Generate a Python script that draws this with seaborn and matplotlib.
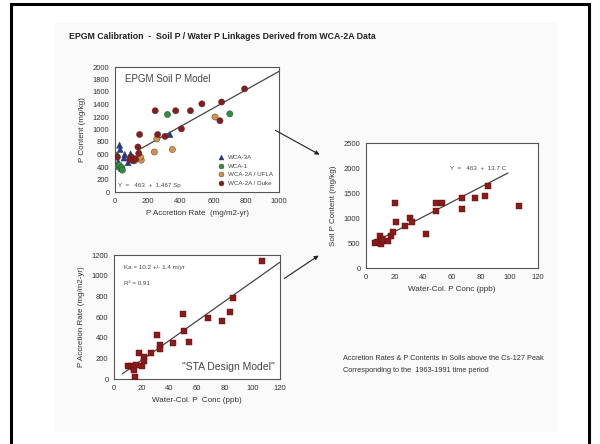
import numpy as np
import pandas as pd
import seaborn as sns
import matplotlib.pyplot as plt
from matplotlib.patches import Rectangle

# --- data ---
# top-left: EPGM soil P model (P accretion rate vs P content)
wca3a_sp = [28, 32, 60, 55, 20, 95, 80, 335]
wca3a_p = [750, 680, 600, 545, 480, 610, 470, 920]
wca1_sp = [5, 15, 25, 35, 42, 45, 320, 700, 10]
wca1_p = [590, 410, 430, 370, 390, 350, 1240, 1250, 560]
ufla_sp = [150, 160, 155, 240, 255, 350, 610, 120]
ufla_p = [540, 510, 560, 640, 850, 680, 1200, 500]
duke_sp = [15, 100, 110, 125, 140, 145, 150, 245, 260, 305, 370, 405, 460, 530, 640, 650, 790, 90]
duke_p = [560, 560, 500, 530, 720, 620, 920, 1300, 920, 890, 1300, 1010, 1300, 1410, 1140, 1440, 1650, 520]
soil_line_x = [140, 1000]
soil_line_y = [668, 1930]

# bottom-left: STA design model (water column P vs accretion)
sta_conc = [10, 12, 13.5, 14.5, 15, 16, 18, 20, 21.5, 22, 27, 31, 33, 33, 43, 50, 50.5, 54, 68, 78, 84, 86, 107]
sta_acc = [130, 125, 115, 85, 20, 135, 250, 125, 210, 170, 250, 430, 325, 290, 350, 630, 460, 355, 590, 565, 650, 780, 1140]
sta_line_x = [6, 121]
sta_line_y = [50, 1140]

# right: soil P content vs water column P
wc_conc = [6, 8, 10, 10.5, 11, 12, 15, 17.5, 19, 20.5, 21, 27, 31, 32, 42, 49, 49, 53, 67, 67, 76, 83, 85, 107]
wc_soil = [500, 520, 640, 480, 590, 540, 540, 640, 720, 1300, 920, 850, 1010, 920, 680, 1300, 1140, 1300, 1400, 1190, 1400, 1440, 1650, 1250]
wc_line_x = [12, 99]
wc_line_y = [610, 1900]

sns.set_style('white')
plt.rcParams['font.family'] = ['Liberation Sans', 'DejaVu Sans']

W, H = 600, 444
fig = plt.figure(figsize=(6, 4.44), dpi=100)

def px_axes(x0, y0, x1, y1):
    # pixel box (top-left origin) -> axes
    return fig.add_axes([x0 / W, 1 - y1 / H, (x1 - x0) / W, (y1 - y0) / H])

# slide frame and faint panel
fig.patches.append(Rectangle((11 / W, -0.05), 578 / W, 1 - 4 / H + 0.05, transform=fig.transFigure,
                             fill=False, edgecolor='black', linewidth=2.2, zorder=0))
fig.patches.append(Rectangle((55 / W, 1 - 432 / H), 502 / W, 410 / H, transform=fig.transFigure,
                             facecolor='#fafafa', edgecolor='none', zorder=-1))

fig.text(69 / W, 1 - 36 / H, 'EPGM Calibration  -  Soil P / Water P Linkages Derived from WCA-2A Data',
         fontsize=6.3, fontweight='bold', color='#222', va='center')

red = '#8b1a1a'

def style_ax(ax):
    ax.set_facecolor('white')
    for s in ax.spines.values():
        s.set_color('#555')
        s.set_linewidth(0.8)
    ax.tick_params(direction='in', length=2.5, width=0.6, colors='#555', labelsize=5.5,
                   labelcolor='#333', pad=4)

# ---- top-left ----
ax1 = px_axes(115, 67, 279, 192)
df1 = pd.concat([
    pd.DataFrame({'x': wca3a_sp, 'y': wca3a_p, 'g': 'WCA-3A'}),
    pd.DataFrame({'x': wca1_sp, 'y': wca1_p, 'g': 'WCA-1'}),
    pd.DataFrame({'x': ufla_sp, 'y': ufla_p, 'g': 'WCA-2A / UFLA'}),
    pd.DataFrame({'x': duke_sp, 'y': duke_p, 'g': 'WCA-2A / Duke'}),
])
pal = {'WCA-3A': '#1f3a9e', 'WCA-1': '#2f8f3f', 'WCA-2A / UFLA': '#d8914a', 'WCA-2A / Duke': red}
marks = {'WCA-3A': '^', 'WCA-1': 'o', 'WCA-2A / UFLA': 'o', 'WCA-2A / Duke': 'o'}
sns.lineplot(x=soil_line_x, y=soil_line_y, color='#444', linewidth=0.9, ax=ax1)
sns.scatterplot(data=df1, x='x', y='y', hue='g', style='g', palette=pal, markers=marks,
                s=20, edgecolor='#333', linewidth=0.3, ax=ax1, zorder=3)
ax1.set_xlim(0, 1000)
ax1.set_ylim(0, 2000)
ax1.set_xticks(range(0, 1001, 200))
ax1.set_yticks(range(0, 2001, 200))
style_ax(ax1)
ax1.set_xlabel('P Accretion Rate  (mg/m2-yr)', fontsize=5.8, color='#333', labelpad=4)
ax1.set_ylabel('P Content (mg/kg)', fontsize=5.8, color='#333', labelpad=5)
ax1.text(0.06, 0.9, 'EPGM Soil P Model', transform=ax1.transAxes, fontsize=7, color='#444', va='center')
ax1.text(0.02, 0.05, 'Y  =   463  +  1.467 Sp', transform=ax1.transAxes, fontsize=4.5, color='#444', va='center')
leg = ax1.legend(loc='lower right', fontsize=4.5, frameon=False, handletextpad=0.1,
                 labelspacing=0.5, borderaxespad=0.6, markerscale=0.8)
for t in leg.get_texts():
    t.set_color('#444')

# ---- bottom-left ----
ax2 = px_axes(114, 255, 280, 379)
sns.lineplot(x=sta_line_x, y=sta_line_y, color='#444', linewidth=0.9, ax=ax2)
sns.scatterplot(x=sta_conc, y=sta_acc, marker='s', color=red, s=22, edgecolor='#5a0f0f',
                linewidth=0.3, ax=ax2, zorder=3)
ax2.set_xlim(0, 120)
ax2.set_ylim(0, 1200)
ax2.set_xticks(range(0, 121, 20))
ax2.set_yticks(range(0, 1201, 200))
style_ax(ax2)
ax2.set_xlabel('Water-Col. P  Conc (ppb)', fontsize=5.8, color='#333', labelpad=4)
ax2.set_ylabel('P Accretion Rate (mg/m2-yr)', fontsize=5.8, color='#333', labelpad=5)
ax2.text(0.06, 0.9, 'Ka = 10.2 +/- 1.4 m/yr', transform=ax2.transAxes, fontsize=4.5, color='#444', va='center')
ax2.text(0.06, 0.77, 'R² = 0.91', transform=ax2.transAxes, fontsize=4.5, color='#444', va='center')
ax2.text(0.41, 0.1, '"STA Design Model"', transform=ax2.transAxes, fontsize=7.5, color='#444', va='center')

# ---- right ----
ax3 = px_axes(366, 143, 538, 268)
sns.lineplot(x=wc_line_x, y=wc_line_y, color='#444', linewidth=0.9, ax=ax3)
sns.scatterplot(x=wc_conc, y=wc_soil, marker='s', color=red, s=22, edgecolor='#5a0f0f',
                linewidth=0.3, ax=ax3, zorder=3)
ax3.set_xlim(0, 120)
ax3.set_ylim(0, 2500)
ax3.set_xticks(range(0, 121, 20))
ax3.set_yticks(range(0, 2501, 500))
style_ax(ax3)
ax3.set_xlabel('Water-Col. P Conc (ppb)', fontsize=5.8, color='#333', labelpad=4)
ax3.set_ylabel('Soil P Content (mg/kg)', fontsize=5.8, color='#333', labelpad=5)
ax3.text(0.49, 0.8, 'Y  =   463  +  13.7 C', transform=ax3.transAxes, fontsize=4.5, color='#444', va='center')

# notes and arrows
fig.text(343 / W, 1 - 358 / H, 'Accretion Rates & P Contents in Soils above the Cs-127 Peak',
         fontsize=5.3, color='#333', va='center')
fig.text(343 / W, 1 - 370 / H, 'Corresponding to the  1963-1991 time period',
         fontsize=5.3, color='#333', va='center')
arrow = dict(arrowstyle='-|>', color='#222', lw=0.8, mutation_scale=6)
fig.add_artist(plt.Annotation('', xy=(322 / W, 1 - 156 / H), xytext=(273 / W, 1 - 129 / H),
                              xycoords='figure fraction', arrowprops=arrow))
fig.add_artist(plt.Annotation('', xy=(321 / W, 1 - 254 / H), xytext=(282 / W, 1 - 280 / H),
                              xycoords='figure fraction', arrowprops=arrow))

fig.savefig('out.png', dpi=100)
